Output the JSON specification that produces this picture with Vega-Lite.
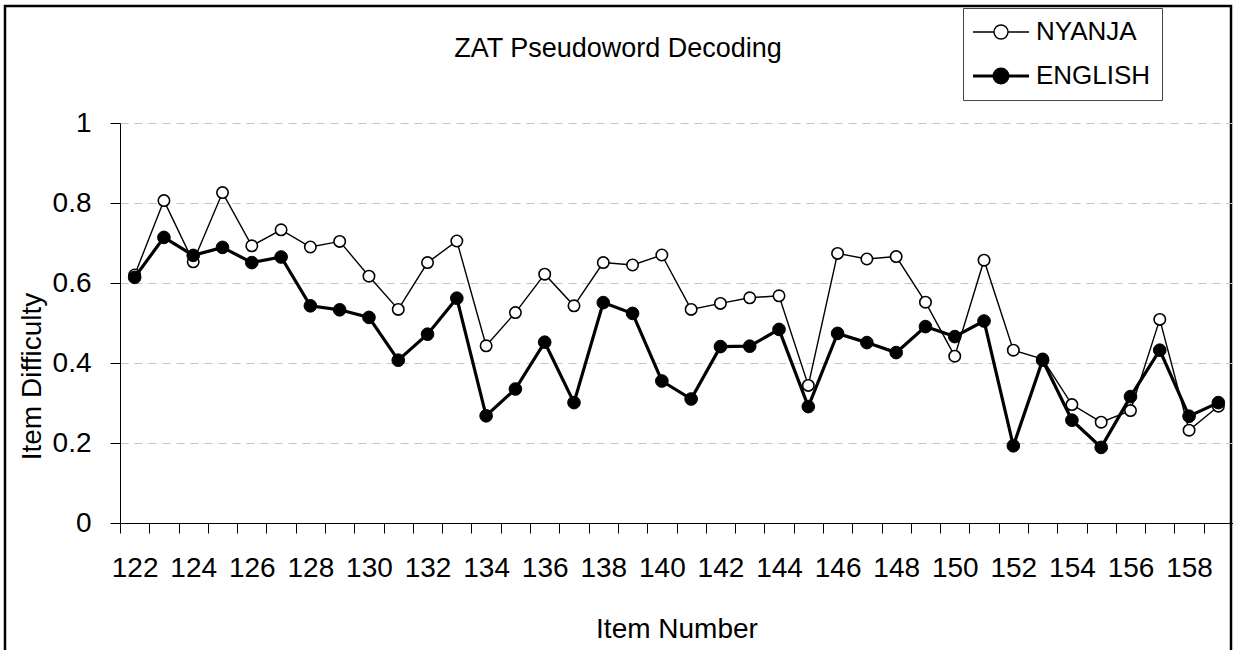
{
  "$schema": "https://vega.github.io/schema/vega-lite/v6.json",
  "width": 1226,
  "height": 644,
  "autosize": {"type": "none"},
  "padding": {"left": 5, "top": 6, "right": 2, "bottom": 0},
  "background": "white",
  "config": {
    "font": "Liberation Sans, sans-serif",
    "view": {"stroke": "black", "strokeWidth": 2.5, "strokeDash": [1870, 1226, 700]}
  },
  "title": {
    "text": "ZAT Pseudoword Decoding",
    "fontSize": 27,
    "fontWeight": "normal",
    "color": "black",
    "anchor": "middle",
    "frame": "group",
    "baseline": "alphabetic",
    "offset": 0,
    "dy": 78
  },
  "data": {
    "values": [
      {"item": 122, "lang": "NYANJA", "v": 0.62}, {"item": 122, "lang": "ENGLISH", "v": 0.614},
      {"item": 123, "lang": "NYANJA", "v": 0.806}, {"item": 123, "lang": "ENGLISH", "v": 0.714},
      {"item": 124, "lang": "NYANJA", "v": 0.653}, {"item": 124, "lang": "ENGLISH", "v": 0.669},
      {"item": 125, "lang": "NYANJA", "v": 0.826}, {"item": 125, "lang": "ENGLISH", "v": 0.689},
      {"item": 126, "lang": "NYANJA", "v": 0.693}, {"item": 126, "lang": "ENGLISH", "v": 0.651},
      {"item": 127, "lang": "NYANJA", "v": 0.733}, {"item": 127, "lang": "ENGLISH", "v": 0.665},
      {"item": 128, "lang": "NYANJA", "v": 0.69}, {"item": 128, "lang": "ENGLISH", "v": 0.543},
      {"item": 129, "lang": "NYANJA", "v": 0.704}, {"item": 129, "lang": "ENGLISH", "v": 0.533},
      {"item": 130, "lang": "NYANJA", "v": 0.617}, {"item": 130, "lang": "ENGLISH", "v": 0.514},
      {"item": 131, "lang": "NYANJA", "v": 0.534}, {"item": 131, "lang": "ENGLISH", "v": 0.407},
      {"item": 132, "lang": "NYANJA", "v": 0.651}, {"item": 132, "lang": "ENGLISH", "v": 0.472},
      {"item": 133, "lang": "NYANJA", "v": 0.705}, {"item": 133, "lang": "ENGLISH", "v": 0.562},
      {"item": 134, "lang": "NYANJA", "v": 0.443}, {"item": 134, "lang": "ENGLISH", "v": 0.268},
      {"item": 135, "lang": "NYANJA", "v": 0.526}, {"item": 135, "lang": "ENGLISH", "v": 0.335},
      {"item": 136, "lang": "NYANJA", "v": 0.622}, {"item": 136, "lang": "ENGLISH", "v": 0.452},
      {"item": 137, "lang": "NYANJA", "v": 0.543}, {"item": 137, "lang": "ENGLISH", "v": 0.301},
      {"item": 138, "lang": "NYANJA", "v": 0.651}, {"item": 138, "lang": "ENGLISH", "v": 0.551},
      {"item": 139, "lang": "NYANJA", "v": 0.645}, {"item": 139, "lang": "ENGLISH", "v": 0.524},
      {"item": 140, "lang": "NYANJA", "v": 0.67}, {"item": 140, "lang": "ENGLISH", "v": 0.355},
      {"item": 141, "lang": "NYANJA", "v": 0.534}, {"item": 141, "lang": "ENGLISH", "v": 0.31},
      {"item": 142, "lang": "NYANJA", "v": 0.549}, {"item": 142, "lang": "ENGLISH", "v": 0.441},
      {"item": 143, "lang": "NYANJA", "v": 0.563}, {"item": 143, "lang": "ENGLISH", "v": 0.442},
      {"item": 144, "lang": "NYANJA", "v": 0.568}, {"item": 144, "lang": "ENGLISH", "v": 0.484},
      {"item": 145, "lang": "NYANJA", "v": 0.344}, {"item": 145, "lang": "ENGLISH", "v": 0.291},
      {"item": 146, "lang": "NYANJA", "v": 0.674}, {"item": 146, "lang": "ENGLISH", "v": 0.474},
      {"item": 147, "lang": "NYANJA", "v": 0.66}, {"item": 147, "lang": "ENGLISH", "v": 0.451},
      {"item": 148, "lang": "NYANJA", "v": 0.666}, {"item": 148, "lang": "ENGLISH", "v": 0.426},
      {"item": 149, "lang": "NYANJA", "v": 0.552}, {"item": 149, "lang": "ENGLISH", "v": 0.491},
      {"item": 150, "lang": "NYANJA", "v": 0.417}, {"item": 150, "lang": "ENGLISH", "v": 0.466},
      {"item": 151, "lang": "NYANJA", "v": 0.657}, {"item": 151, "lang": "ENGLISH", "v": 0.505},
      {"item": 152, "lang": "NYANJA", "v": 0.432}, {"item": 152, "lang": "ENGLISH", "v": 0.193},
      {"item": 153, "lang": "NYANJA", "v": 0.41}, {"item": 153, "lang": "ENGLISH", "v": 0.407},
      {"item": 154, "lang": "NYANJA", "v": 0.296}, {"item": 154, "lang": "ENGLISH", "v": 0.257},
      {"item": 155, "lang": "NYANJA", "v": 0.252}, {"item": 155, "lang": "ENGLISH", "v": 0.189},
      {"item": 156, "lang": "NYANJA", "v": 0.281}, {"item": 156, "lang": "ENGLISH", "v": 0.316},
      {"item": 157, "lang": "NYANJA", "v": 0.509}, {"item": 157, "lang": "ENGLISH", "v": 0.432},
      {"item": 158, "lang": "NYANJA", "v": 0.232}, {"item": 158, "lang": "ENGLISH", "v": 0.267},
      {"item": 159, "lang": "NYANJA", "v": 0.292}, {"item": 159, "lang": "ENGLISH", "v": 0.301}
    ]
  },
  "encoding": {
    "x": {
      "field": "item",
      "type": "quantitative",
      "scale": {"domain": [121.5, 159.5], "range": [115, 1228], "nice": false, "zero": false},
      "axis": {
        "title": "Item Number",
        "titleFontSize": 28,
        "titleFontWeight": "normal",
        "titleColor": "black",
        "titleBaseline": "alphabetic",
        "titleY": 114,
        "offset": -127,
        "values": [121.5,122.5,123.5,124.5,125.5,126.5,127.5,128.5,129.5,130.5,131.5,132.5,133.5,134.5,135.5,136.5,137.5,138.5,139.5,140.5,141.5,142.5,143.5,144.5,145.5,146.5,147.5,148.5,149.5,150.5,151.5,152.5,153.5,154.5,155.5,156.5,157.5,158.5],
        "labelExpr": "(datum.value + 0.5) % 2 === 0 ? format(datum.value + 0.5, 'd') : ''",
        "labelOffset": 14.65,
        "labelOverlap": false,
        "labelFlush": false,
        "labelBound": false,
        "labelFontSize": 28,
        "labelColor": "black",
        "labelBaseline": "alphabetic",
        "labelPadding": 43,
        "tickSize": 10,
        "tickColor": "black",
        "domainColor": "black",
        "grid": false
      }
    },
    "y": {
      "field": "v",
      "type": "quantitative",
      "scale": {"domain": [0, 1], "range": [517, 117], "nice": false},
      "axis": {
        "title": "Item Difficulty",
        "titleFontSize": 28,
        "titleFontWeight": "normal",
        "titleColor": "black",
        "titleBaseline": "alphabetic",
        "titleAngle": -90,
        "titleX": -80,
        "titleY": 370,
        "offset": -115,
        "values": [0, 0.2, 0.4, 0.6, 0.8, 1],
        "format": "~g",
        "labelFontSize": 28,
        "labelColor": "black",
        "labelPadding": 19,
        "tickSize": 10,
        "tickColor": "black",
        "domainColor": "black",
        "grid": true,
        "gridColor": "#c4c4c4",
        "gridDash": [8, 6],
        "gridWidth": 1
      }
    }
  },
  "layer": [
    {
      "transform": [{"filter": "datum.lang === 'NYANJA'"}],
      "mark": {"type": "line", "color": "black", "strokeWidth": 1.4},
      "encoding": {}
    },
    {
      "transform": [{"filter": "datum.lang === 'NYANJA'"}],
      "mark": {"type": "point", "shape": "circle", "filled": true, "stroke": "black", "strokeWidth": 1.6, "size": 130, "opacity": 1},
      "encoding": {
        "fill": {
          "field": "lang",
          "type": "nominal",
          "scale": {"domain": ["NYANJA", "ENGLISH"], "range": ["white", "black"]},
          "legend": {
            "title": null,
            "orient": "none",
            "legendX": 958,
            "legendY": 2,
            "direction": "vertical",
            "symbolType": "M-2,0H-0.5M0.5,0H2M0.5,0A0.5,0.5,0,1,1,-0.5,0A0.5,0.5,0,1,1,0.5,0Z",
            "symbolSize": 784,
            "symbolOffset": 14,
            "symbolStrokeColor": "black",
            "symbolOpacity": 1,
            "labelFontSize": 26,
            "labelColor": "black",
            "labelOffset": 22,
            "rowPadding": 18,
            "padding": 11,
            "strokeColor": "#444",
            "fillColor": "white",
            "encode": {
              "symbols": {"update": {"strokeWidth": {"signal": "datum.value === 'ENGLISH' ? 3 : 1.4"}}}
            }
          }
        }
      }
    },
    {
      "transform": [{"filter": "datum.lang === 'ENGLISH'"}],
      "mark": {"type": "line", "color": "black", "strokeWidth": 3.2},
      "encoding": {}
    },
    {
      "transform": [{"filter": "datum.lang === 'ENGLISH'"}],
      "mark": {"type": "point", "shape": "circle", "filled": true, "stroke": "black", "strokeWidth": 1, "size": 160, "opacity": 1},
      "encoding": {
        "fill": {"field": "lang", "type": "nominal"}
      }
    }
  ]
}
